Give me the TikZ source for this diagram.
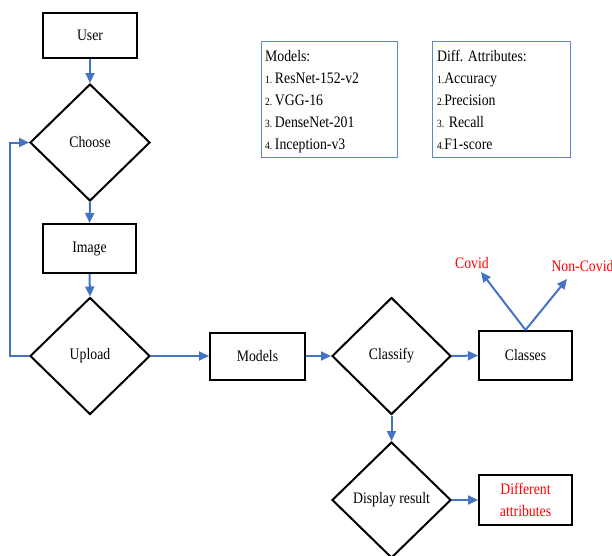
\documentclass[tikz,border=0pt]{standalone}
\usepackage{fontspec}
\setmainfont{Liberation Serif}[FakeStretch=0.86]
\usetikzlibrary{shapes.geometric,arrows.meta}
\definecolor{arrowblue}{HTML}{4472C4}
\begin{document}
\begin{tikzpicture}[x=1pt,y=-1pt,
  box/.style={draw=black,line width=2pt,inner sep=0pt,font=\fontsize{16}{18}\selectfont},
  dia/.style={draw=black,line width=2pt,shape=diamond,inner sep=0pt,minimum width=120pt,minimum height=117pt,font=\fontsize{16}{18}\selectfont},
  conn/.style={draw=arrowblue,line width=2pt,-{Triangle[length=10pt,width=9pt]}},
  infobox/.style={draw=arrowblue!85,line width=1.2pt,fill=white,inner sep=0pt,minimum width=136pt,minimum height=116pt,anchor=north west},
  infotext/.style={anchor=north west,align=left,inner sep=0pt,font=\fontsize{16}{22}\selectfont},
  redtext/.style={text=red,font=\fontsize{16}{18}\selectfont}
]
\useasboundingbox (0,0) rectangle (612,555);
\begin{scope}
\clip (0,0) rectangle (612,555);
% main column
\node[box,minimum width=94pt,minimum height=45pt] (user) at (90,35.5) {User};
\node[dia] (choose) at (90,142.5) {Choose};
\node[box,minimum width=93pt,minimum height=49pt] (image) at (89.5,248.5) {Image};
\node[dia] (upload) at (90,356) {Upload};
\node[box,minimum width=95pt,minimum height=47pt] (models) at (257.5,356) {Models};
\node[dia,minimum width=119pt] (classify) at (391.5,356) {Classify};
\node[box,minimum width=93pt,minimum height=49pt] (classes) at (525.5,355.5) {Classes};
\node[dia,minimum width=119pt,minimum height=116pt] (display) at (391.5,500) {Display result};
\node[box,minimum width=93pt,minimum height=50pt,align=center,text=red,font=\fontsize{16}{22}\selectfont] (diff) at (525.5,500) {Different\\attributes};
\node[redtext] (covid) at (472,263) {Covid};
\node[redtext,anchor=west] (noncovid) at (548,266) {Non-Covid};
\coordinate (covidtip) at (481,272);
\coordinate (noncovidtip) at (567,279);
\coordinate (loopA) at (10,356);
\coordinate (loopB) at (10,142.5);
% connectors
\draw[conn] (user.south) -- (choose.north);
\draw[conn] (choose.south) -- (image.north);
\draw[conn] (image.south) -- (upload.north);
\draw[conn] (upload.west) -- (loopA) -- (loopB) -- (choose.west);
\draw[conn] (upload.east) -- (models.west);
\draw[conn] (models.east) -- (classify.west);
\draw[conn] (classify.east) -- (classes.west);
\draw[conn] (classify.south) -- (display.north);
\draw[conn] (display.east) -- (diff.west);
\draw[conn] (classes.north) -- (covidtip);
\draw[conn] (classes.north) -- (noncovidtip);
% info boxes
\node[infobox] (mbox) at (261,41) {};
\node[infotext] (mtext) at (265,50) {Models:\\
{\fontsize{11}{22}\selectfont 1.}\,ResNet-152-v2\\
{\fontsize{11}{22}\selectfont 2.}\,VGG-16\\
{\fontsize{11}{22}\selectfont 3.}\,DenseNet-201\\
{\fontsize{11}{22}\selectfont 4.}\,Inception-v3};
\node[infobox,minimum width=138pt] (abox) at (432,41) {};
\node[infotext] (atext) at (437,50) {Diff. Attributes:\\
{\fontsize{11}{22}\selectfont 1.}Accuracy\\
{\fontsize{11}{22}\selectfont 2.}Precision\\
{\fontsize{11}{22}\selectfont 3.} Recall\\
{\fontsize{11}{22}\selectfont 4.}F1-score};
\end{scope}
\end{tikzpicture}
\end{document}
